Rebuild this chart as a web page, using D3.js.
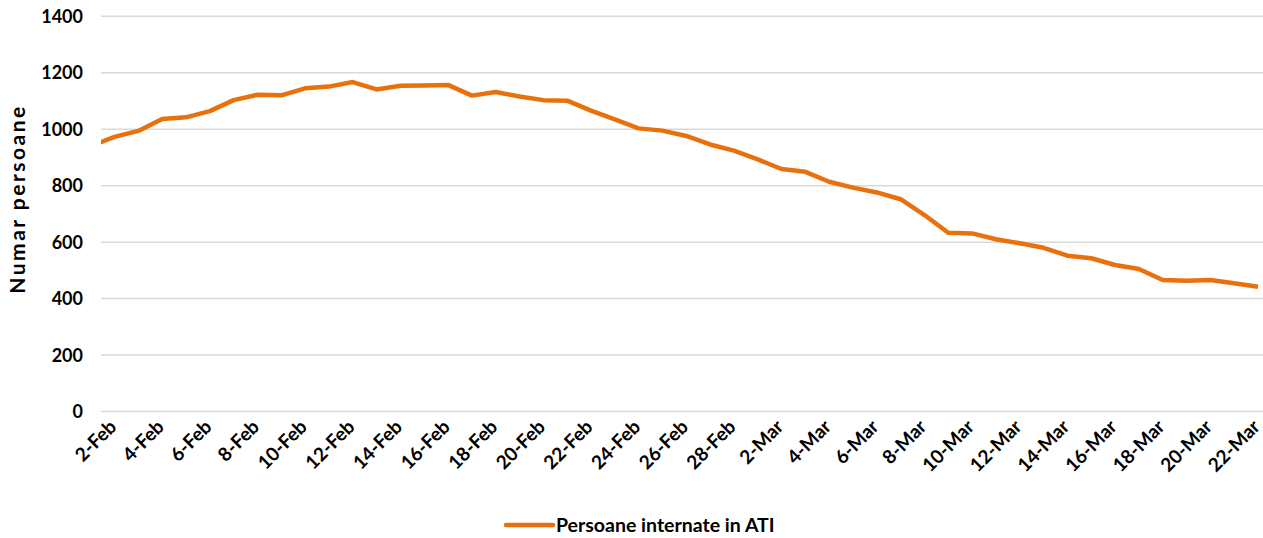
<!DOCTYPE html>
<html>
<head>
<meta charset="utf-8">
<script src="https://cdn.jsdelivr.net/npm/d3@7"></script>
<style>
  body { margin: 0; background: #fff; }
  text { font-family: Lato, "Open Sans", sans-serif; font-weight: bold; fill: #000; }
</style>
</head>
<body>
<svg id="chart" width="1263" height="538"></svg>
<script>
// daily series, 1-Feb is only partly visible at the left edge
var dates = ["1-Feb","2-Feb","3-Feb","4-Feb","5-Feb","6-Feb","7-Feb","8-Feb","9-Feb","10-Feb",
  "11-Feb","12-Feb","13-Feb","14-Feb","15-Feb","16-Feb","17-Feb","18-Feb","19-Feb","20-Feb",
  "21-Feb","22-Feb","23-Feb","24-Feb","25-Feb","26-Feb","27-Feb","28-Feb","1-Mar","2-Mar",
  "3-Mar","4-Mar","5-Mar","6-Mar","7-Mar","8-Mar","9-Mar","10-Mar","11-Mar","12-Mar",
  "13-Mar","14-Mar","15-Mar","16-Mar","17-Mar","18-Mar","19-Mar","20-Mar","21-Mar","22-Mar"];

var persoane = [940, 973, 994, 1036, 1042, 1064, 1103, 1122, 1120, 1145,
  1151, 1167, 1141, 1154, 1155, 1157, 1119, 1132, 1116, 1103,
  1101, 1066, 1035, 1003, 995, 976, 946, 924, 893, 859,
  849, 814, 793, 776, 752, 696, 633, 631, 610, 596,
  580, 552, 543, 519, 505, 466, 463, 466, 454, 442];

var yTicks = [0, 200, 400, 600, 800, 1000, 1200, 1400];
var tickDates = dates.filter((d, i) => i >= 1 && (i - 1) % 2 == 0);

var seriesName = "Persoane internate in ATI";
var yTitle = "Numar persoane";

var width = 1263, height = 538;
var margin = {left: 101, right: 0, top: 16, bottom: 127};

var svg = d3.select("#chart");

var x = d3.scaleLinear()
    .domain([1, dates.length - 1])
    .range([114.5, 1258]);

var y = d3.scaleLinear()
    .domain([0, 1400])
    .range([411.5, 16.3]);

// gridlines
svg.append("g")
  .selectAll("line")
  .data(yTicks)
  .enter().append("line")
    .attr("x1", margin.left)
    .attr("x2", width)
    .attr("y1", d => y(d))
    .attr("y2", d => y(d))
    .style("stroke", "#d9d9d9")
    .style("stroke-width", 1.5);

// y tick labels
svg.append("g")
  .selectAll("text")
  .data(yTicks)
  .enter().append("text")
    .attr("x", 83)
    .attr("y", d => y(d))
    .attr("dy", "0.36em")
    .attr("text-anchor", "end")
    .style("font-size", "18px")
    .text(d => d);

// y title
svg.append("text")
  .attr("transform", "translate(25,199) rotate(-90)")
  .attr("text-anchor", "middle")
  .style("font-size", "21px")
  .style("letter-spacing", "2.5px")
  .text(yTitle);

// x tick labels
svg.append("g")
  .selectAll("text")
  .data(tickDates)
  .enter().append("text")
    .attr("transform", d => "translate(" + (x(dates.indexOf(d)) - 1) + ",424) rotate(-45)")
    .attr("text-anchor", "end")
    .attr("dy", "0.3em")
    .style("font-size", "19px")
    .text(d => d);

// line, clipped to the plot area
svg.append("clipPath")
    .attr("id", "plot-clip")
  .append("rect")
    .attr("x", margin.left)
    .attr("y", 0)
    .attr("width", width - margin.left)
    .attr("height", 430);

var line = d3.line()
    .x((d, i) => x(i))
    .y(d => y(d));

svg.append("path")
    .datum(persoane)
    .attr("clip-path", "url(#plot-clip)")
    .attr("d", line)
    .style("fill", "none")
    .style("stroke", "#e8710e")
    .style("stroke-width", 4.5)
    .style("stroke-linejoin", "round");

// legend
var legend = svg.append("g");
legend.append("line")
    .attr("x1", 506).attr("x2", 553)
    .attr("y1", 525).attr("y2", 525)
    .style("stroke", "#e8710e")
    .style("stroke-width", 4.5)
    .style("stroke-linecap", "round");
legend.append("text")
    .attr("x", 556)
    .attr("y", 525)
    .attr("dy", "0.36em")
    .style("font-size", "19.5px")
    .text(seriesName);
</script>
</body>
</html>
